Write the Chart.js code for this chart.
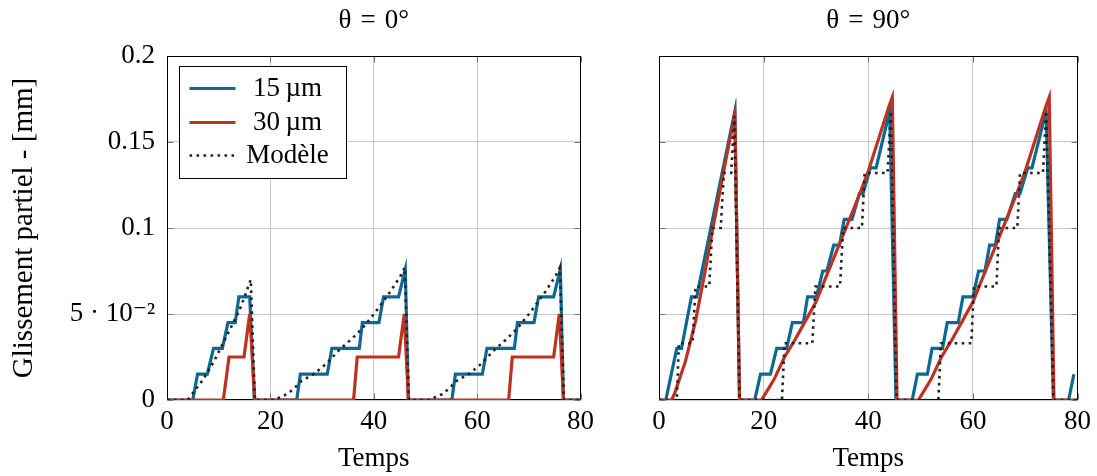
<!DOCTYPE html>
<html>
<head>
<meta charset="utf-8">
<script src="https://cdn.jsdelivr.net/npm/chart.js@4.4.0/dist/chart.umd.min.js"></script>
<style>
  body { margin: 0; background: #fff; }
  canvas { position: absolute; top: 0; }
  #gauche { left: 0; }
  #droite { left: 600px; }
</style>
</head>
<body>
<canvas id="gauche" width="600" height="476"></canvas>
<canvas id="droite" width="497" height="476"></canvas>
<script>
const titres = ['θ\u2004=\u20040°', 'θ\u2004=\u200490°'];
const etiquettes = ['15\u2009µm', '30\u2009µm', 'Modèle'];
const yTickLabels = ['0', '5 · 10⁻²', '0.1', '0.15', '0.2'];
const xTicks = [0, 20, 40, 60, 80];

// theta = 0
const t15_0 = [0, 5, 5.9, 7.8, 9, 10.7, 11.8, 13.2, 13.9, 16, 16.9,
  25.1, 25.8, 31, 31.9, 37.2, 37.8, 41, 41.9, 44.8, 46.1, 46.7,
  55.1, 55.8, 61, 61.9, 67.2, 67.8, 71, 71.9, 74.8, 76.1, 76.7, 80];
const g15_0 = [0, 0, 0.015, 0.015, 0.03, 0.03, 0.045, 0.045, 0.06, 0.06, 0,
  0, 0.015, 0.015, 0.03, 0.03, 0.045, 0.045, 0.06, 0.06, 0.076, 0,
  0, 0.015, 0.015, 0.03, 0.03, 0.045, 0.045, 0.06, 0.06, 0.076, 0, 0];

const t30_0 = [0, 10.9, 12, 14.9, 16, 17,
  36.1, 36.8, 44.8, 45.9, 46.7,
  66.1, 66.8, 74.8, 75.9, 76.7, 80];
const g30_0 = [0, 0, 0.025, 0.025, 0.05, 0,
  0, 0.025, 0.025, 0.05, 0,
  0, 0.025, 0.025, 0.05, 0, 0];

const tMod_0 = [0, 4, 5, 6, 7, 8, 9, 10, 11, 12, 13, 14, 15, 16.2, 17,
  21, 22, 23.2, 24.4, 26, 28.6, 30.8, 33.3, 35.9, 37.8, 40.3, 43.2, 45.1, 46, 46.8,
  51, 52, 53.2, 54.4, 56, 58.6, 60.8, 63.3, 65.9, 67.8, 70.3, 73.2, 75.1, 76, 76.8, 80];
const gMod_0 = [0, 0, 0.004, 0.008, 0.012, 0.017, 0.022, 0.028, 0.034, 0.04, 0.046, 0.052, 0.06, 0.07, 0,
  0, 0.002, 0.0033, 0.0062, 0.011, 0.0155, 0.021, 0.029, 0.036, 0.0417, 0.051, 0.063, 0.0717, 0.077, 0,
  0, 0.002, 0.0033, 0.0062, 0.011, 0.0155, 0.021, 0.029, 0.036, 0.0417, 0.051, 0.063, 0.0717, 0.077, 0, 0];

// theta = 90
const t15_90 = [0, 1.3, 3.4, 4.3, 6.2, 7.2, 14.5, 15.4,
  18.3, 19.4, 21.3, 22.5, 24.4, 25.5, 27.6, 28.4, 30.1, 31.3, 32.1, 33.4, 34.5, 35.4, 36.9, 38.3, 39.0, 40.4, 41.5, 44.1, 45.3,
  48.4, 49.4, 51.3, 52.2, 54.2, 55.1, 57.2, 58.1, 60.0, 61.1, 62.3, 63.2, 64.3, 65.1, 66.5, 68.1, 69.0, 70.5, 71.3, 74.0, 75.4,
  78.3, 79.3];
const g15_90 = [0, 0, 0.03, 0.03, 0.06, 0.06, 0.168, 0,
  0, 0.015, 0.015, 0.03, 0.03, 0.045, 0.045, 0.06, 0.06, 0.075, 0.075, 0.09, 0.09, 0.105, 0.105, 0.12, 0.12, 0.135, 0.135, 0.168, 0,
  0, 0.015, 0.015, 0.03, 0.03, 0.045, 0.045, 0.06, 0.06, 0.075, 0.075, 0.09, 0.09, 0.105, 0.105, 0.12, 0.12, 0.135, 0.135, 0.168, 0,
  0, 0.015];

const t30_90 = [0, 2.4, 3, 4, 5, 6, 7, 8, 9, 10, 11, 12, 13, 14, 14.5, 15.4,
  19.6, 20, 22, 24, 26, 28, 30, 32, 34, 36, 38, 40, 42, 44, 44.6, 45.5,
  49.6, 50, 52, 54, 56, 58, 60, 62, 64, 66, 68, 70, 72, 74, 74.6, 75.5, 80];
const g30_90 = [0, 0, 0.004, 0.013, 0.022, 0.034, 0.046, 0.062, 0.078, 0.095, 0.111, 0.127, 0.143, 0.158, 0.166, 0,
  0, 0.002, 0.012, 0.025, 0.035, 0.046, 0.057, 0.072, 0.087, 0.102, 0.117, 0.133, 0.152, 0.171, 0.176, 0,
  0, 0.002, 0.012, 0.025, 0.035, 0.046, 0.057, 0.072, 0.087, 0.102, 0.117, 0.133, 0.152, 0.171, 0.176, 0, 0];

const tMod_90 = [0, 3.4, 3.8, 6.4, 7.0, 9.6, 10.2, 11.8, 12.4, 13.8, 14.4, 15.4,
  23.5, 24.0, 29.3, 29.9, 34.6, 35.2, 38.8, 39.3, 43.7, 44.3, 45.4,
  53.4, 53.9, 59.7, 60.2, 64.5, 65.0, 68.5, 69.0, 73.4, 74.0, 75.4, 80];
const gMod_90 = [0, 0, 0.033, 0.033, 0.066, 0.066, 0.1, 0.1, 0.132, 0.132, 0.165, 0,
  0, 0.033, 0.033, 0.066, 0.066, 0.1, 0.1, 0.132, 0.132, 0.168, 0,
  0, 0.033, 0.033, 0.066, 0.066, 0.1, 0.1, 0.132, 0.132, 0.168, 0, 0];

const BLEU = '#0d6893';
const ROUGE = '#bd3220';
const NOIR = '#222222';
const POLICE = "'Liberation Serif', 'DejaVu Serif', serif";
const TAILLE = 27;

Chart.defaults.font.family = POLICE;
Chart.defaults.color = '#000';

function points(t, g) {
  return t.map((x, i) => ({ x: x, y: g[i] }));
}

function series(t15, g15, t30, g30, tMod, gMod) {
  return [
    { label: etiquettes[0], data: points(t15, g15), borderColor: BLEU, borderWidth: 3.2, order: 2 },
    { label: etiquettes[1], data: points(t30, g30), borderColor: ROUGE, borderWidth: 3.2, order: 1 },
    { label: etiquettes[2], data: points(tMod, gMod), borderColor: NOIR, borderWidth: 2.6,
      borderDash: [2.6, 4.4], borderCapStyle: 'butt', order: 0 }
  ];
}

// cadre + petites graduations interieures facon pgfplots
const cadre = {
  id: 'cadre',
  beforeDatasetsDraw(chart) {
    const { ctx, chartArea: a, scales: { x, y } } = chart;
    const L = Math.round(a.left) + 0.5, R = Math.round(a.right) - 0.5;
    const T = Math.round(a.top) + 0.5, B = Math.round(a.bottom) - 0.5;
    ctx.save();
    ctx.lineWidth = 1;
    ctx.strokeStyle = '#777';
    ctx.beginPath();
    x.ticks.forEach(tk => {
      const px = Math.round(x.getPixelForValue(tk.value)) + 0.5;
      ctx.moveTo(px, T); ctx.lineTo(px, T + 6);
      ctx.moveTo(px, B); ctx.lineTo(px, B - 6);
    });
    y.ticks.forEach(tk => {
      const py = Math.round(y.getPixelForValue(tk.value)) + 0.5;
      ctx.moveTo(L, py); ctx.lineTo(L + 6, py);
      ctx.moveTo(R, py); ctx.lineTo(R - 6, py);
    });
    ctx.stroke();
    ctx.strokeStyle = '#000';
    ctx.strokeRect(L, T, R - L, B - T);
    ctx.restore();
  }
};

// legende dans la zone du graphe
const legendeInterne = {
  id: 'legendeInterne',
  afterDraw(chart, args, opts) {
    if (!opts.show) return;
    const { ctx, chartArea: a } = chart;
    const bx = a.left + 12.5, by = a.top + 10.5, bw = 167, bh = 112;
    ctx.save();
    ctx.fillStyle = '#fff';
    ctx.fillRect(bx, by, bw, bh);
    ctx.strokeStyle = '#000';
    ctx.lineWidth = 1;
    ctx.strokeRect(bx, by, bw, bh);
    const rows = [22, 56, 89];
    chart.data.datasets.forEach((ds, i) => {
      const yy = by + rows[i];
      ctx.beginPath();
      ctx.strokeStyle = ds.borderColor;
      ctx.lineWidth = ds.borderWidth;
      ctx.lineCap = 'butt';
      ctx.setLineDash(ds.borderDash || []);
      ctx.moveTo(bx + 10, yy);
      ctx.lineTo(bx + 56, yy);
      ctx.stroke();
      ctx.setLineDash([]);
      ctx.fillStyle = '#000';
      ctx.font = TAILLE + 'px ' + POLICE;
      ctx.textAlign = 'center';
      ctx.textBaseline = 'middle';
      ctx.fillText(ds.label, bx + 108, yy);
    });
    ctx.restore();
  }
};

function creer(id, titre, datasets, avecY, droitePad, largeurY) {
  return new Chart(document.getElementById(id), {
    type: 'line',
    data: { datasets: datasets },
    options: {
      responsive: false,
      animation: false,
      elements: { point: { radius: 0 }, line: { tension: 0, borderJoinStyle: 'miter', fill: false } },
      layout: { padding: { left: 0, right: droitePad, top: 0, bottom: 0 } },
      plugins: {
        legend: { display: false },
        tooltip: { enabled: false },
        title: {
          display: true, text: titre, fullSize: false,
          font: { size: TAILLE, weight: 'normal', lineHeight: 1.2 },
          padding: { top: 5, bottom: 18.6 }
        },
        legendeInterne: { show: avecY }
      },
      scales: {
        x: {
          type: 'linear', min: 0, max: 80,
          afterBuildTicks: s => { s.ticks = xTicks.map(v => ({ value: v })); },
          afterFit: s => { s.height = 76; },
          ticks: { font: { size: TAILLE }, padding: 6, maxRotation: 0 },
          grid: { color: '#c8c8c8', drawTicks: false },
          border: { display: false },
          title: { display: true, text: 'Temps', font: { size: TAILLE }, padding: { top: 0, bottom: 1 } }
        },
        y: {
          min: 0, max: 0.2,
          afterBuildTicks: s => { s.ticks = yTickLabels.map((l, i) => ({ value: i * 0.05 })); },
          afterFit: s => { s.width = largeurY; },
          ticks: {
            display: avecY, font: { size: TAILLE }, padding: 12,
            callback: (v) => yTickLabels[Math.round(v / 0.05)]
          },
          grid: { color: '#c8c8c8', drawTicks: false },
          border: { display: false },
          title: { display: avecY, text: 'Glissement partiel - [mm]', font: { size: 29 }, padding: { top: 6.6, bottom: 0 } }
        }
      }
    },
    plugins: [cadre, legendeInterne]
  });
}

creer('gauche', titres[0], series(t15_0, g15_0, t30_0, g30_0, tMod_0, gMod_0), true, 14, 167);
creer('droite', titres[1], series(t15_90, g15_90, t30_90, g30_90, tMod_90, gMod_90), false, 18, 59);
</script>
</body>
</html>
